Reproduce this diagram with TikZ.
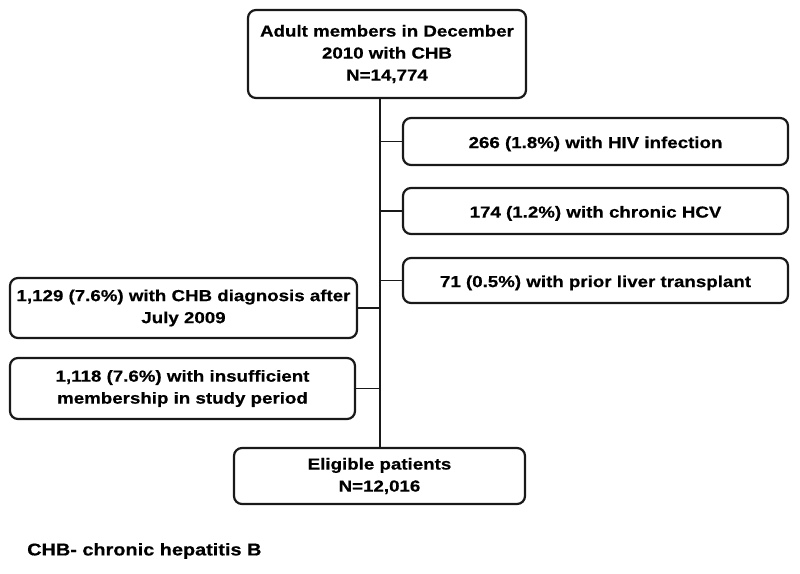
\documentclass[tikz,border=0pt]{standalone}
\usepackage{fontspec}
\setmainfont{Liberation Sans}[FakeStretch=1.17, FakeBold=0.5]
\begin{document}
\begin{tikzpicture}[x=1pt,y=-1pt,
  box/.style={draw=black!90, line width=2.2pt, rounded corners=8pt, align=center,
    font=\fontsize{16}{22}\selectfont\bfseries, inner sep=0pt,
    execute at begin node={\rule{0pt}{16.5pt}}},
  conn/.style={draw=black!90, line width=1.4pt}]
\useasboundingbox (0,0) rectangle (800,573);
\node[box, minimum width=278pt, minimum height=88pt] (top) at (387,54)
  {Adult members in December\\2010 with CHB\\N=14,774};
\node[box, minimum width=385pt, minimum height=47pt] (hiv) at (595.5,141.5)
  {266 (1.8\%) with HIV infection};
\node[box, minimum width=385pt, minimum height=46pt] (hcv) at (595.5,211)
  {174 (1.2\%) with chronic HCV};
\node[box, minimum width=385pt, minimum height=45pt] (liver) at (595.5,280.5)
  {71 (0.5\%) with prior liver transplant};
\node[box, minimum width=347pt, minimum height=60pt] (chb) at (183.5,308)
  {1,129 (7.6\%) with CHB diagnosis after\\July 2009};
\node[box, minimum width=345pt, minimum height=61pt] (ins) at (182.5,388.5)
  {1,118 (7.6\%) with insufficient\\membership in study period};
\node[box, minimum width=291pt, minimum height=56pt] (elig) at (379.5,476)
  {Eligible patients\\N=12,016};
\coordinate (vx) at (380,0);
\draw[conn] (top.south -| vx) -- (elig.north -| vx);
\draw[conn] (hiv.west) -- (hiv.west -| vx);
\draw[conn] (hcv.west) -- (hcv.west -| vx);
\draw[conn] (liver.west) -- (liver.west -| vx);
\draw[conn] (chb.east) -- (chb.east -| vx);
\draw[conn] (ins.east) -- (ins.east -| vx);
\node[anchor=west, inner sep=0pt, font=\fontsize{17}{22}\selectfont\bfseries] (note) at (27,551)
  {CHB- chronic hepatitis B};
\end{tikzpicture}
\end{document}
